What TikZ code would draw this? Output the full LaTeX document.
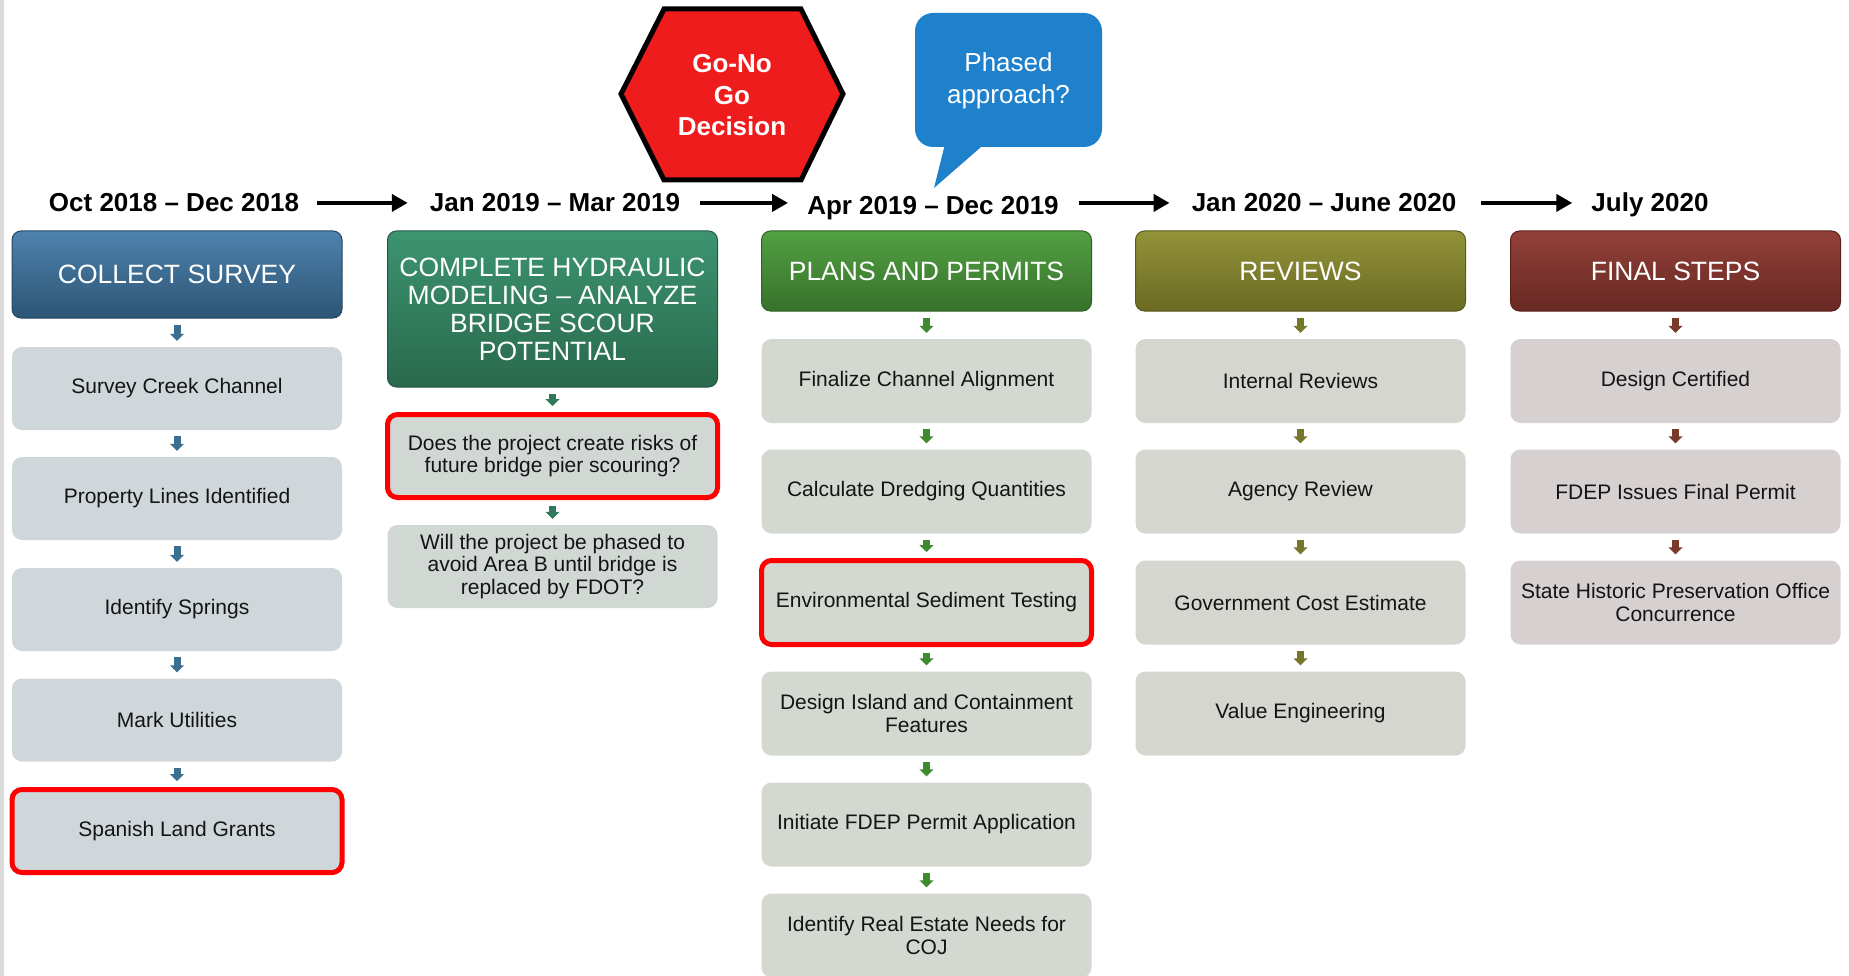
\documentclass[tikz,border=0pt]{standalone}
\usepackage{fontspec}
\setmainfont{Liberation Sans}
\usetikzlibrary{arrows.meta}
\definecolor{bT}{HTML}{4E82AE}\definecolor{bB}{HTML}{2C5574}
\definecolor{tT}{HTML}{3C9470}\definecolor{tB}{HTML}{2A694D}
\definecolor{gT}{HTML}{52A043}\definecolor{gB}{HTML}{37722B}
\definecolor{oT}{HTML}{93933A}\definecolor{oB}{HTML}{6A6A22}
\definecolor{rT}{HTML}{93403A}\definecolor{rB}{HTML}{682822}
\definecolor{iA}{HTML}{D0D7DA}\definecolor{iB}{HTML}{D1D8D4}
\definecolor{iC}{HTML}{D3D9D1}\definecolor{iD}{HTML}{D6D6D0}
\definecolor{iE}{HTML}{D6D1D0}
\definecolor{aA}{HTML}{3A6F90}\definecolor{aB}{HTML}{2F7A5A}
\definecolor{aC}{HTML}{3F8A2F}\definecolor{aD}{HTML}{77772A}
\definecolor{aE}{HTML}{7A3A2A}
\definecolor{txt}{HTML}{141414}
\definecolor{hexred}{HTML}{EE1C1C}
\definecolor{bubble}{HTML}{1F80CC}
\definecolor{redline}{HTML}{FF0000}
\begin{document}
\begin{tikzpicture}[x=1pt,y=-1pt,
  hdr/.style={rounded corners=9pt, minimum width=330pt, text=white, align=center, inner sep=0pt,
    line width=1pt, font=\fontsize{26.5}{28}\selectfont},
  item/.style={rounded corners=10pt, minimum width=330pt, minimum height=83pt, text=txt,
    align=center, inner sep=0pt, font=\fontsize{21}{22.8}\selectfont},
  redbox/.style={draw=redline, line width=5pt},
  datelbl/.style={anchor=base, inner sep=0pt, text depth=0pt, font=\bfseries\fontsize{26}{28}\selectfont},
  tl/.style={line width=4.5pt, -{Triangle[length=16pt,width=17pt]}},
  sarrow/.style={draw=#1, line width=7pt, -{Triangle[width=14pt,length=7pt]}, shorten <=6pt, shorten >=6pt}
]
\useasboundingbox (0,0) rectangle (1849,976);
\fill[white] (0,0) rectangle (1849,976);
\fill[black!14] (0,0) rectangle (4,976);

% hexagon
\filldraw[fill=hexred, draw=black, line width=5pt, line join=miter]
  (621,94) -- (664,9) -- (801,9) -- (843,94) -- (801,180) -- (664,180) -- cycle;
\node[text=white, align=center, font=\bfseries\fontsize{26}{31.5}\selectfont] (go) at (732,95.5) {Go-No\\Go\\Decision};

% speech bubble
\fill[bubble, rounded corners=18pt] (915,13) rectangle (1102,147);
\fill[bubble] (946,140) -- (989,140) -- (934,188) -- cycle;
\node[text=white, align=center, font=\fontsize{26}{32}\selectfont] (ph) at (1008.5,81) {Phased\\approach?};

% dates
\node[datelbl] (d1) at (174,212) {Oct 2018 – Dec 2018};
\node[datelbl] (d2) at (555,212) {Jan 2019 – Mar 2019};
\node[datelbl] (d3) at (933,215) {Apr 2019 – Dec 2019};
\node[datelbl] (d4) at (1324,212) {Jan 2020 – June 2020};
\node[datelbl] (d5) at (1650,212) {July 2020};
\draw[tl, shorten <=18pt, shorten >=22pt] (d1.east) -- (d1.east -| d2.west);
\draw[tl, shorten <=20pt, shorten >=19pt] (d2.east) -- (d2.east -| d3.west);
\draw[tl, shorten <=20pt, shorten >=22pt] (d4.west -| d3.east) -- (d4.west);
\draw[tl, shorten <=25pt, shorten >=19pt] (d4.east) -- (d4.east -| d5.west);

% headers
\node[hdr, minimum height=87pt, top color=bT, bottom color=bB, draw=bB!85!black] (h1) at (177,274.5) {COLLECT SURVEY};
\node[hdr, minimum height=156pt, top color=tT, bottom color=tB, draw=tB!85!black] (h2) at (552.5,309) {COMPLETE HYDRAULIC\\MODELING – ANALYZE\\BRIDGE SCOUR\\POTENTIAL};
\node[hdr, minimum height=80pt, top color=gT, bottom color=gB, draw=gB!85!black] (h3) at (926.5,271) {PLANS AND PERMITS};
\node[hdr, minimum height=80pt, top color=oT, bottom color=oB, draw=oB!85!black] (h4) at (1300.5,271) {REVIEWS};
\node[hdr, minimum height=80pt, top color=rT, bottom color=rB, draw=rB!85!black] (h5) at (1675.5,271) {FINAL STEPS};

% column 1
\node[item, fill=iA] (a1) at (177,388.5) {Survey Creek Channel};
\node[item, fill=iA] (a2) at (177,498.5) {Property Lines Identified};
\node[item, fill=iA] (a3) at (177,609.5) {Identify Springs};
\node[item, fill=iA] (a4) at (177,720) {Mark Utilities};
\node[item, fill=iA, redbox] (a5) at (177,831) {Spanish Land Grants};
\draw[sarrow=aA] (h1) -- (a1);
\draw[sarrow=aA] (a1) -- (a2);
\draw[sarrow=aA] (a2) -- (a3);
\draw[sarrow=aA] (a3) -- (a4);
\draw[sarrow=aA] (a4) -- (a5);

% column 2
\node[item, fill=iB, redbox] (b1) at (552.5,456) {Does the project create risks of\\future bridge pier scouring?};
\node[item, fill=iB] (b2) at (552.5,566.5) {Will the project be phased to\\avoid Area B until bridge is\\replaced by FDOT?};
\draw[sarrow=aB] (h2) -- (b1);
\draw[sarrow=aB] (b1) -- (b2);

% column 3
\node[item, fill=iC, minimum height=84pt] (c1) at (926.5,381) {Finalize Channel Alignment};
\node[item, fill=iC, minimum height=84pt] (c2) at (926.5,491.5) {Calculate Dredging Quantities};
\node[item, fill=iC, minimum height=84pt, redbox] (c3) at (926.5,602.5) {Environmental Sediment Testing};
\node[item, fill=iC, minimum height=84pt] (c4) at (926.5,713.5) {Design Island and Containment\\Features};
\node[item, fill=iC, minimum height=84pt] (c5) at (926.5,824.5) {Initiate FDEP Permit Application};
\node[item, fill=iC, minimum height=84pt] (c6) at (926.5,935.5) {Identify Real Estate Needs for\\COJ};
\draw[sarrow=aC] (h3) -- (c1);
\draw[sarrow=aC] (c1) -- (c2);
\draw[sarrow=aC] (c2) -- (c3);
\draw[sarrow=aC] (c3) -- (c4);
\draw[sarrow=aC] (c4) -- (c5);
\draw[sarrow=aC] (c5) -- (c6);

% column 4
\node[item, fill=iD, minimum height=84pt] (e1) at (1300.5,381) {Internal Reviews};
\node[item, fill=iD, minimum height=84pt] (e2) at (1300.5,491.5) {Agency Review};
\node[item, fill=iD, minimum height=84pt] (e3) at (1300.5,602.5) {Government Cost Estimate};
\node[item, fill=iD, minimum height=84pt] (e4) at (1300.5,713.5) {Value Engineering};
\draw[sarrow=aD] (h4) -- (e1);
\draw[sarrow=aD] (e1) -- (e2);
\draw[sarrow=aD] (e2) -- (e3);
\draw[sarrow=aD] (e3) -- (e4);

% column 5
\node[item, fill=iE, minimum height=84pt] (f1) at (1675.5,381) {Design Certified};
\node[item, fill=iE, minimum height=84pt] (f2) at (1675.5,491.5) {FDEP Issues Final Permit};
\node[item, fill=iE, minimum height=84pt] (f3) at (1675.5,602.5) {State Historic Preservation Office\\Concurrence};
\draw[sarrow=aE] (h5) -- (f1);
\draw[sarrow=aE] (f1) -- (f2);
\draw[sarrow=aE] (f2) -- (f3);
\end{tikzpicture}
\end{document}
